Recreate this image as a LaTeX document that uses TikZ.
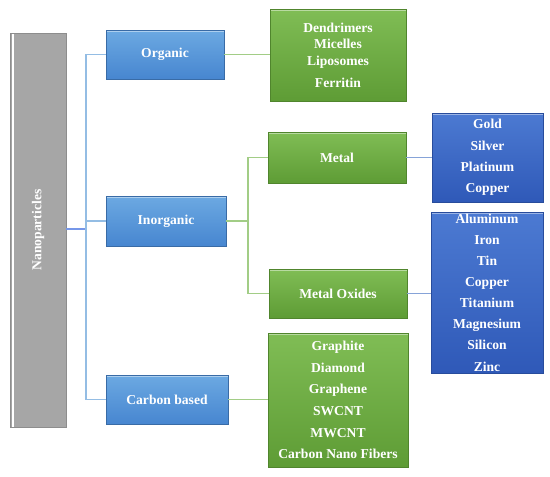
\documentclass[tikz,border=0pt]{standalone}
\usepackage{fontspec}
\setmainfont{Liberation Serif}
\usetikzlibrary{calc}

\definecolor{npgray}{HTML}{A6A6A6}
\definecolor{lbtop}{HTML}{6CA9E2}
\definecolor{lbbot}{HTML}{4786D0}
\definecolor{gtop}{HTML}{80BD55}
\definecolor{gbot}{HTML}{5E9C35}
\definecolor{dbtop}{HTML}{4C7AD2}
\definecolor{dbbot}{HTML}{2F59B8}
\definecolor{bline}{HTML}{94BDE4}
\definecolor{gline}{HTML}{A2CD86}
\definecolor{dline}{HTML}{86A3D8}

\tikzset{
  base/.style={inner sep=0pt, align=center, text=white,
    font=\bfseries\fontsize{13.6}{21.3}\selectfont},
  wh/.style 2 args={minimum width=#1, minimum height=#2},
  hilite/.style={path picture={\draw[white, opacity=0.45, line width=1.5pt]
    ([yshift=-1.5pt]path picture bounding box.north west) --
    ([yshift=-1.5pt]path picture bounding box.north east);}},
  lblue/.style={base, hilite, draw=lbbot!80!black, top color=lbtop, bottom color=lbbot},
  grn/.style={base, hilite, draw=gbot!85!black, top color=gtop, bottom color=gbot},
  dblue/.style={base, hilite, draw=dbbot!85!black, top color=dbtop, bottom color=dbbot},
}

\begin{document}
\begin{tikzpicture}[x=1pt, y=-1pt]
  \useasboundingbox (0,0) rectangle (550,477);
  % root
  \node[base, wh={56pt}{394pt}, fill=npgray, draw=npgray!85!black,
    path picture={\draw[white, line width=1.2pt]
      ([xshift=3pt]path picture bounding box.north west) --
      ([xshift=3pt]path picture bounding box.south west);}]
    (np) at (38,230) {};
  \node[base, rotate=90] (nplabel) at (np.center) {Nanoparticles};
  % first level
  \node[lblue, wh={118pt}{49pt}] (org) at (165,54.5) {Organic};
  \node[lblue, wh={120pt}{50pt}] (inorg) at (166,221) {Inorganic};
  \node[lblue, wh={122pt}{49pt}] (carb) at (167,399.5) {Carbon based};
  % second level
  \node[grn, wh={136pt}{92pt}, font=\bfseries\fontsize{13.6}{16.7}\selectfont]
    (orglist) at (338,55) {Dendrimers\\Micelles\\Liposomes\\[4.9pt]Ferritin};
  \node[grn, wh={138pt}{51pt}] (metal) at (337,157.5) {Metal};
  \node[grn, wh={138pt}{49pt}] (oxide) at (338,293.5) {Metal Oxides};
  \node[grn, wh={140pt}{134pt}, font=\bfseries\fontsize{13.6}{21.7}\selectfont]
    (carblist) at (338,400) {Graphite\\Diamond\\Graphene\\SWCNT\\MWCNT\\Carbon Nano Fibers};
  % third level
  \node[dblue, wh={111pt}{89pt}] (metallist) at (487.5,157.5)
    {Gold\\Silver\\Platinum\\Copper};
  \node[dblue, wh={112pt}{161pt}, font=\bfseries\fontsize{13.6}{21.1}\selectfont]
    (oxidelist) at (487,292.5)
    {Aluminum\\Iron\\Tin\\Copper\\Titanium\\Magnesium\\Silicon\\Zinc};
  % connectors
  \coordinate (bj) at (86,229);
  \coordinate (gj) at (248,221);
  \draw[bline!80!blue, line width=1.8pt] (np.east |- bj) -- (bj);
  \draw[bline, line width=1.3pt] (org.west) -| (bj) |- (carb.west);
  \draw[bline, line width=1.3pt] (inorg.west) -- (inorg.west -| bj);
  \draw[gline, line width=1.3pt] (org.east) -- (orglist.west |- org.east);
  \draw[gline, line width=1.3pt] (inorg.east) -- (gj);
  \draw[gline, line width=1.3pt] (metal.west) -| (gj) |- (oxide.west);
  \draw[gline, line width=1.3pt] (carb.east) -- (carblist.west |- carb.east);
  \draw[dline, line width=1.3pt] (metal.east) -- (metallist.west);
  \draw[dline, line width=1.3pt] (oxide.east) -- (oxidelist.west |- oxide.east);
\end{tikzpicture}
\end{document}
